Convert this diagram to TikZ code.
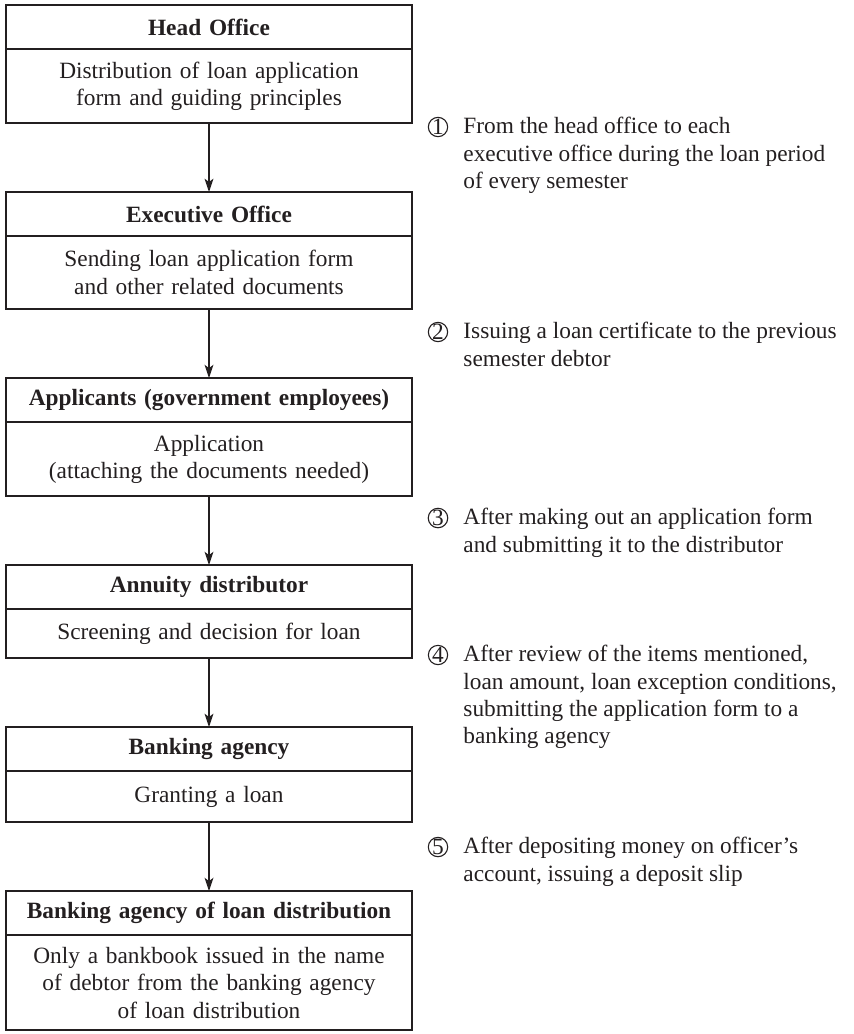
\documentclass[tikz,border=0pt]{standalone}
\usepackage{fontspec}
\setmainfont{Liberation Serif}
\usetikzlibrary{positioning, arrows.meta}
\definecolor{Ink}{HTML}{231F20}
\tikzset{
    box title/.style={
        draw=Ink, line width=0.7pt, text=Ink, outer sep=0pt,
        font=\fontsize{10.5}{12.3}\selectfont\bfseries,
        text width=176.7pt, inner xsep=3pt, inner ysep=0pt, align=center,
        minimum height=19.8pt
    },
    box body/.style={
        draw=Ink, line width=0.7pt, text=Ink, outer sep=0pt,
        font=\fontsize{10.5}{12.3}\selectfont,
        text width=176.7pt, inner xsep=3pt, inner ysep=0pt, align=center,
        minimum height=#1
    },
    flow arrow/.style={
        draw=Ink, line width=0.6pt, -{Stealth[length=6pt, width=4pt, inset=1.5pt]}
    },
    note text/.style={
        anchor=north west, inner sep=0pt, align=left, text=Ink,
        font=\fontsize{10.5}{12.3}\selectfont
    },
    note number/.style={
        circle, draw=Ink, line width=0.5pt, inner sep=0pt, minimum size=8.3pt,
        text=Ink, font=\fontsize{10.5}{12.3}\selectfont
    },
}

\begin{document}
\begin{tikzpicture}[x=0.45pt, y=-0.45pt, node distance=31.05pt]

    \useasboundingbox (0,0) rectangle (854,1034);

    % flow boxes
    \node[box title, anchor=north] (head-t) at (209,5) {Head Office};
    \node[box body=33.3pt, below=0pt of head-t] (head-b)
        {Distribution of loan application\\form and guiding principles};

    \node[box title, below=of head-b] (exec-t) {Executive Office};
    \node[box body=32.9pt, below=0pt of exec-t] (exec-b)
        {Sending loan application form\\and other related documents};

    \node[box title, below=of exec-b] (appl-t) {Applicants (government employees)};
    \node[box body=33.3pt, below=0pt of appl-t] (appl-b)
        {Application\\(attaching the documents needed)};

    \node[box title, below=of appl-b] (annu-t) {Annuity distributor};
    \node[box body=22pt, below=0pt of annu-t] (annu-b)
        {Screening and decision for loan};

    \node[box title, below=of annu-b] (bank-t) {Banking agency};
    \node[box body=23pt, below=0pt of bank-t] (bank-b)
        {Granting a loan};

    \node[box title, below=of bank-b] (dist-t) {Banking agency of loan distribution};
    \node[box body=42.8pt, below=0pt of dist-t] (dist-b)
        {Only a bankbook issued in the name\\of debtor from the banking agency\\of loan distribution};

    \draw[flow arrow] (head-b) -- (exec-t);
    \draw[flow arrow] (exec-b) -- (appl-t);
    \draw[flow arrow] (appl-b) -- (annu-t);
    \draw[flow arrow] (annu-b) -- (bank-t);
    \draw[flow arrow] (bank-b) -- (dist-t);

    % notes
    \node[note number] (num-1) at (438,127) {1};
    \node[note text] (note-1) at (463,117)
        {From the head office to each\\executive office during the loan period\\of every semester};

    \node[note number] (num-2) at (438,332) {2};
    \node[note text] (note-2) at (463,322)
        {Issuing a loan certificate to the previous\\semester debtor};

    \node[note number] (num-3) at (438,518) {3};
    \node[note text] (note-3) at (463,508)
        {After making out an application form\\and submitting it to the distributor};

    \node[note number] (num-4) at (438,655) {4};
    \node[note text] (note-4) at (463,645)
        {After review of the items mentioned,\\loan amount, loan exception conditions,\\submitting the application form to a\\banking agency};

    \node[note number] (num-5) at (438,847) {5};
    \node[note text] (note-5) at (463,837)
        {After depositing money on officer’s\\account, issuing a deposit slip};

\end{tikzpicture}
\end{document}
